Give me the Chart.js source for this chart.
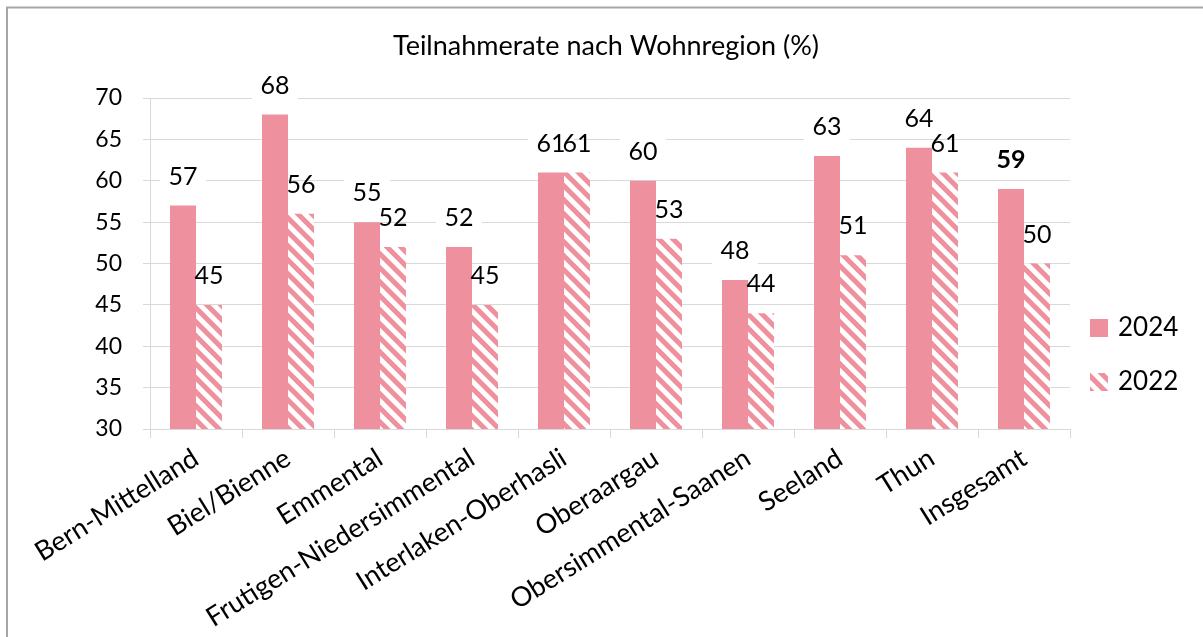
<!DOCTYPE html>
<html lang="de">
<head>
    <meta charset="UTF-8">
    <title>Teilnahmerate nach Wohnregion</title>
    <script src="https://cdn.jsdelivr.net/npm/chart.js"></script>
    <style>
        body { margin: 0; background: #fff; }
        #wrap { width: 1203px; height: 637px; }
    </style>
</head>
<body>
    <div id="wrap">
        <canvas id="chart" width="1203" height="637"></canvas>
    </div>

    <script>
        const regions = ['Bern-Mittelland', 'Biel/Bienne', 'Emmental', 'Frutigen-Niedersimmental',
            'Interlaken-Oberhasli', 'Oberaargau', 'Obersimmental-Saanen', 'Seeland', 'Thun', 'Insgesamt'];
        const rate2024 = [57, 68, 55, 52, 61, 60, 48, 63, 64, 59];
        const rate2022 = [45, 56, 52, 45, 61, 53, 44, 51, 61, 50];
        const seriesNames = ['2024', '2022'];
        const chartTitle = 'Teilnahmerate nach Wohnregion (%)';

        const pink = 'rgb(239, 144, 158)';
        const gridGrey = '#d9d9d9';
        const fontFam = 'Lato, "Open Sans", sans-serif';

        // diagonal hatch for 2022
        function makeHatch() {
            const c = document.createElement('canvas');
            c.width = 14; c.height = 14;
            const g = c.getContext('2d');
            g.fillStyle = '#fff';
            g.fillRect(0, 0, 14, 14);
            g.strokeStyle = pink;
            g.lineWidth = 5;
            g.beginPath();
            g.moveTo(-7, -7); g.lineTo(21, 21);
            g.moveTo(-21, -7); g.lineTo(7, 21);
            g.moveTo(7, -7); g.lineTo(35, 21);
            g.stroke();
            return document.getElementById('chart').getContext('2d').createPattern(c, 'repeat');
        }
        const hatch = makeHatch();

        // grey frame + title centred on the whole picture
        const frame = {
            id: 'frame',
            beforeDraw(chart) {
                const ctx = chart.ctx;
                ctx.save();
                ctx.strokeStyle = '#a6a6a6';
                ctx.lineWidth = 2;
                ctx.beginPath();
                ctx.moveTo(7, 637); ctx.lineTo(7, 7.5); ctx.lineTo(1203, 7.5);
                ctx.stroke();
                ctx.font = '27px ' + fontFam;
                ctx.fillStyle = '#000';
                ctx.textAlign = 'center';
                ctx.textBaseline = 'middle';
                ctx.fillText(chartTitle, 606, 46);
                ctx.restore();
            }
        };

        const valueLabels = {
            id: 'valueLabels',
            afterDatasetsDraw(chart) {
                const ctx = chart.ctx;
                chart.data.datasets.forEach((ds, di) => {
                    const meta = chart.getDatasetMeta(di);
                    meta.data.forEach((bar, i) => {
                        const x = bar.x;
                        const y = bar.y - 29;
                        const bold = di === 0 && i === ds.data.length - 1;
                        ctx.save();
                        if (di === 0) {
                            ctx.fillStyle = '#fff';
                            ctx.fillRect(x - 23, y - 16, 46, 32);
                        }
                        ctx.font = (bold ? 'bold ' : '') + '25px ' + fontFam;
                        ctx.fillStyle = '#000';
                        ctx.textAlign = 'center';
                        ctx.textBaseline = 'middle';
                        ctx.fillText(String(ds.data[i]), x, y);
                        ctx.restore();
                    });
                });
            }
        };

        const sideLegend = {
            id: 'sideLegend',
            afterDraw(chart) {
                const ctx = chart.ctx;
                const ys = [328, 382];
                chart.data.datasets.forEach((ds, di) => {
                    ctx.save();
                    ctx.fillStyle = ds.backgroundColor;
                    ctx.fillRect(1090, ys[di] - 9, 18, 18);
                    ctx.font = '26px ' + fontFam;
                    ctx.fillStyle = '#000';
                    ctx.textBaseline = 'middle';
                    ctx.fillText(ds.label, 1118, ys[di]);
                    ctx.restore();
                });
            }
        };

        new Chart(document.getElementById('chart'), {
            type: 'bar',
            data: {
                labels: regions,
                datasets: [
                    { label: seriesNames[0], data: rate2024, backgroundColor: pink },
                    { label: seriesNames[1], data: rate2022, backgroundColor: hatch }
                ]
            },
            options: {
                responsive: false,
                animation: false,
                categoryPercentage: 0.565,
                barPercentage: 1,
                layout: { padding: { left: 0, right: 133, top: 98, bottom: 0 } },
                plugins: {
                    legend: { display: false },
                    tooltip: { enabled: false },
                    title: { display: false }
                },
                scales: {
                    y: {
                        min: 30,
                        max: 70,
                        ticks: { stepSize: 5, color: '#000', padding: 21, font: { family: fontFam, size: 23 } },
                        grid: { color: gridGrey, tickLength: 7 },
                        border: { color: gridGrey },
                        afterFit(scale) { scale.width = 150; }
                    },
                    x: {
                        ticks: { color: '#000', minRotation: 32, maxRotation: 32, padding: 4, font: { family: fontFam, size: 27 } },
                        grid: { color: gridGrey, drawOnChartArea: false, tickLength: 9 },
                        border: { color: gridGrey },
                        afterFit(scale) { scale.height = 208; }
                    }
                }
            },
            plugins: [frame, valueLabels, sideLegend]
        });
    </script>
</body>
</html>
